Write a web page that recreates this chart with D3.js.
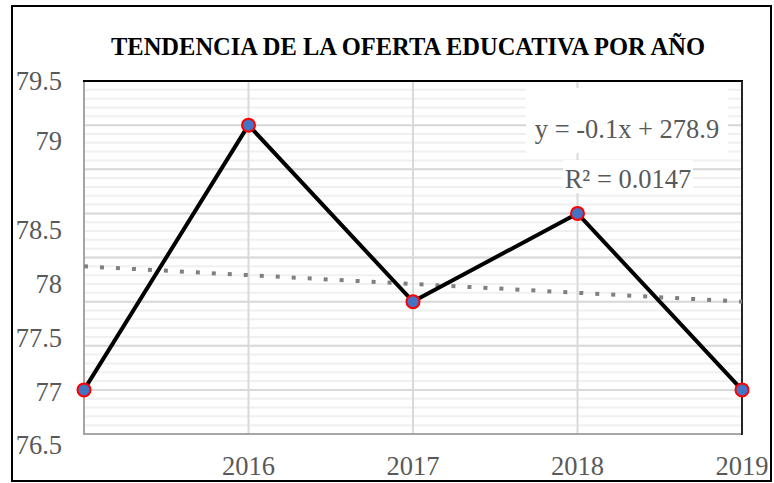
<!DOCTYPE html>
<html>
<head>
<meta charset="utf-8">
<script src="https://cdn.jsdelivr.net/npm/d3@7"></script>
<style>
  body { margin: 0; background: #ffffff; }
  svg { display: block; }
  text { font-family: 'Liberation Serif', 'Times New Roman', serif; }
  .ylab, .xlab, .eq { fill: #595959; font-size: 26.5px; }
  .title { fill: #000000; font-size: 24.5px; font-weight: bold; }
</style>
</head>
<body>
<svg width="774" height="483"></svg>
<script>
// data
const years = [2015, 2016, 2017, 2018, 2019]
const oferta = [76, 79, 77, 78, 76]
// labels shown under the plot (2015 has none)
const xTickLabels = [2016, 2017, 2018, 2019]
// labels typed along the left side of the chart
const yTickLabels = [79.5, 79, 78.5, 78, 77.5, 77, 76.5]
const titleText = 'TENDENCIA DE LA OFERTA EDUCATIVA POR AÑO'

// plot area box
const plot = { left: 84, right: 742, top: 81, bottom: 434 }

const svg = d3.select('svg')

const x = d3.scalePoint()
  .domain(years)
  .range([plot.left, plot.right])

const y = d3.scaleLinear()
  .domain([75.5, 79.5])
  .range([plot.bottom, plot.top])

// the side labels are not spaced evenly in the original, so a polylinear scale places them
const yLabelScale = d3.scaleLinear()
  .domain([76.5, 78.5, 79, 79.5])
  .range([445, 230, 141, 81])

// least squares trend line (same as the excel one)
const meanX = d3.mean(years)
const meanY = d3.mean(oferta)
const sxy = d3.sum(years, (d, i) => (d - meanX) * (oferta[i] - meanY))
const sxx = d3.sum(years, d => (d - meanX) ** 2)
const slope = sxy / sxx
const intercept = meanY - slope * meanX
const ssTot = d3.sum(oferta, d => (d - meanY) ** 2)
const ssRes = d3.sum(years, (d, i) => (oferta[i] - (slope * d + intercept)) ** 2)
const r2 = 1 - ssRes / ssTot

// white chart background
svg.append('rect')
  .attr('width', 774)
  .attr('height', 483)
  .style('fill', '#ffffff')

// minor gridlines every 0.1
const minor = d3.range(0, 41).map(i => 75.5 + i * 0.1)
svg.append('g')
  .selectAll('line')
  .data(minor)
  .enter()
  .append('line')
  .attr('x1', plot.left)
  .attr('x2', plot.right)
  .attr('y1', d => y(d))
  .attr('y2', d => y(d))
  .style('stroke', '#f0f0f0')
  .style('stroke-width', 2)

// major gridlines every 0.5
svg.append('g')
  .selectAll('line')
  .data(y.ticks(8))
  .enter()
  .append('line')
  .attr('x1', plot.left)
  .attr('x2', plot.right)
  .attr('y1', d => y(d))
  .attr('y2', d => y(d))
  .style('stroke', '#d9d9d9')
  .style('stroke-width', 2)

// vertical gridlines
svg.append('g')
  .selectAll('line')
  .data(years.slice(1, -1))
  .enter()
  .append('line')
  .attr('x1', d => x(d))
  .attr('x2', d => x(d))
  .attr('y1', plot.top)
  .attr('y2', plot.bottom)
  .style('stroke', '#d9d9d9')
  .style('stroke-width', 2)

// plot frame: grey left/bottom, black top/right
const frame = svg.append('g').style('stroke-width', 2)
frame.append('line')
  .attr('x1', plot.left).attr('x2', plot.left)
  .attr('y1', plot.top).attr('y2', plot.bottom + 1)
  .style('stroke', '#a6a6a6')
frame.append('line')
  .attr('x1', plot.left).attr('x2', plot.right)
  .attr('y1', plot.bottom).attr('y2', plot.bottom)
  .style('stroke', '#a6a6a6')
frame.append('line')
  .attr('x1', plot.left - 1).attr('x2', plot.right + 1)
  .attr('y1', plot.top).attr('y2', plot.top)
  .style('stroke', '#000000')
frame.append('line')
  .attr('x1', plot.right).attr('x2', plot.right)
  .attr('y1', plot.top).attr('y2', plot.bottom + 1)
  .style('stroke', '#262626')

// dotted trend line
svg.append('line')
  .attr('x1', x(years[0]))
  .attr('x2', x(years[years.length - 1]))
  .attr('y1', y(slope * years[0] + intercept))
  .attr('y2', y(slope * years[years.length - 1] + intercept))
  .style('stroke', '#808080')
  .style('stroke-width', 4)
  .style('stroke-dasharray', '4,12')

// data line
const lineGenerator = d3.line()
  .x((d, i) => x(years[i]))
  .y(d => y(d))

svg.append('path')
  .datum(oferta)
  .attr('d', lineGenerator)
  .style('fill', 'none')
  .style('stroke', '#000000')
  .style('stroke-width', 4)
  .style('stroke-linejoin', 'miter')

// markers
svg.append('g')
  .selectAll('circle')
  .data(oferta)
  .enter()
  .append('circle')
  .attr('cx', (d, i) => x(years[i]))
  .attr('cy', d => y(d))
  .attr('r', 6.5)
  .style('fill', '#4472c4')
  .style('stroke', '#ff0000')
  .style('stroke-width', 2)

// trend equation labels with white backing
const eqText = `y = ${slope.toFixed(1)}x + ${intercept.toFixed(1)}`
const r2Text = `R² = ${r2.toFixed(4)}`

svg.append('rect')
  .attr('x', 526).attr('y', 88)
  .attr('width', 202).attr('height', 65)
  .style('fill', '#ffffff')
svg.append('rect')
  .attr('x', 563).attr('y', 160)
  .attr('width', 130).attr('height', 33)
  .style('fill', '#ffffff')

svg.append('text')
  .attr('class', 'eq')
  .attr('x', 627)
  .attr('y', 138)
  .attr('text-anchor', 'middle')
  .text(eqText)

svg.append('text')
  .attr('class', 'eq')
  .attr('x', 628)
  .attr('y', 188)
  .attr('text-anchor', 'middle')
  .text(r2Text)

// y labels on the left
svg.append('g')
  .selectAll('text')
  .data(yTickLabels)
  .enter()
  .append('text')
  .attr('class', 'ylab')
  .attr('x', 62)
  .attr('y', d => yLabelScale(d))
  .attr('dy', '0.35em')
  .attr('text-anchor', 'end')
  .text(d => d)

// x labels
svg.append('g')
  .selectAll('text')
  .data(xTickLabels)
  .enter()
  .append('text')
  .attr('class', 'xlab')
  .attr('x', d => x(d))
  .attr('y', 475)
  .attr('text-anchor', 'middle')
  .text(d => d)

// title
svg.append('text')
  .attr('class', 'title')
  .attr('x', 408)
  .attr('y', 55)
  .attr('text-anchor', 'middle')
  .text(titleText)

// outer chart border
svg.append('rect')
  .attr('x', 12)
  .attr('y', 6)
  .attr('width', 759)
  .attr('height', 475)
  .style('fill', 'none')
  .style('stroke', '#000000')
  .style('stroke-width', 2)
</script>
</body>
</html>
